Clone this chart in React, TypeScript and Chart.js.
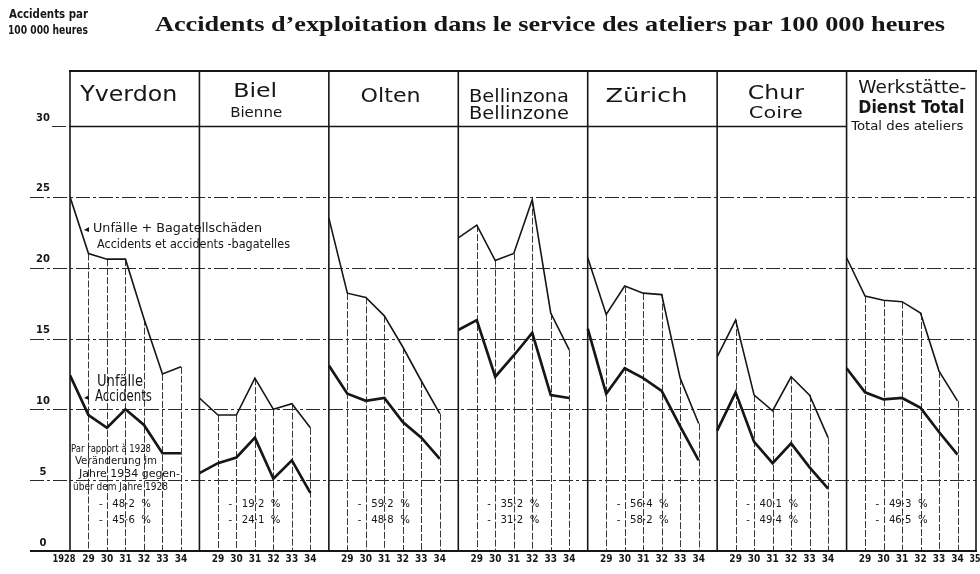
import React, { useEffect, useRef } from "react";
import { Chart, registerables } from "chart.js";

Chart.register(...registerables);

// ---------- data ----------
const years = ["1928", "1929", "1930", "1931", "1932", "1933", "1934"];
const endYearLabel = "35";
const stations = ["Yverdon", "Biel", "Olten", "Bellinzona", "Zürich", "Chur", "Werkstätte-Dienst Total"];

// Unfälle + Bagatellschäden (thin line)
const yverdonTotal = [25.0, 21.0, 20.6, 20.6, 16.4, 12.5, 13.0];
const bielTotal = [10.8, 9.6, 9.6, 12.2, 10.0, 10.4, 8.7];
const oltenTotal = [23.5, 18.2, 17.9, 16.6, 14.4, 12.0, 9.7];
const bellinzonaTotal = [22.1, 23.0, 20.5, 21.0, 24.8, 16.8, 14.2];
const zurichTotal = [20.7, 16.7, 18.7, 18.2, 18.1, 12.2, 9.0];
const churTotal = [13.7, 16.3, 11.0, 9.9, 12.3, 11.0, 8.0];
const werkstatteTotal = [20.7, 18.0, 17.7, 17.6, 16.8, 12.7, 10.6];

// Unfälle (thick line)
const yverdonAccidents = [12.4, 9.6, 8.7, 10.0, 8.9, 6.9, 6.9];
const bielAccidents = [5.5, 6.2, 6.6, 8.0, 5.1, 6.4, 4.1];
const oltenAccidents = [13.1, 11.1, 10.6, 10.8, 9.1, 8.0, 6.5];
const bellinzonaAccidents = [15.6, 16.3, 12.3, 13.8, 15.4, 11.0, 10.8];
const zurichAccidents = [15.7, 11.1, 12.9, 12.2, 11.3, 8.8, 6.4];
const churAccidents = [8.5, 11.2, 7.7, 6.2, 7.6, 5.9, 4.4];
const werkstatteAccidents = [12.9, 11.2, 10.7, 10.8, 10.1, 8.4, 6.8];

// change 1934 vs 1928 (%)
const changeTotal = ["48·2", "19·2", "59·2", "35·2", "56·4", "40·1", "49·3"];
const changeAccidents = ["45·6", "24·1", "48·8", "31·2", "58·2", "49·4", "46·5"];

const yTicks = [0, 5, 10, 15, 20, 25, 30];

const totals = [yverdonTotal, bielTotal, oltenTotal, bellinzonaTotal, zurichTotal, churTotal, werkstatteTotal];
const accidents = [yverdonAccidents, bielAccidents, oltenAccidents, bellinzonaAccidents, zurichAccidents, churAccidents, werkstatteAccidents];

const INK = "#161616";
const SANS = "'DejaVu Sans', 'Noto Sans', sans-serif";
const COND = "'DejaVu Sans Condensed', 'Liberation Sans Narrow', 'DejaVu Sans', sans-serif";

function fitText(ctx: CanvasRenderingContext2D, text: string, x: number, y: number, width: number, font: string, align: CanvasTextAlign = "center") {
  ctx.save();
  ctx.font = font;
  const w = ctx.measureText(text).width || 1;
  ctx.translate(x, y);
  ctx.scale(width / w, 1);
  ctx.textAlign = align;
  ctx.textBaseline = "middle";
  ctx.fillStyle = INK;
  ctx.fillText(text, 0, 0);
  ctx.restore();
}

function arrowLeft(ctx: CanvasRenderingContext2D, x: number, y: number) {
  ctx.save();
  ctx.fillStyle = INK;
  ctx.beginPath();
  ctx.moveTo(x - 3, y + 1);
  ctx.lineTo(x + 2, y - 2);
  ctx.lineTo(x + 2, y + 3);
  ctx.closePath();
  ctx.fill();
  ctx.restore();
}

const framePlugin = {
  id: "frame",
  beforeDatasetsDraw(chart: any) {
    const ctx: CanvasRenderingContext2D = chart.ctx;
    const xs = chart.scales.x;
    const ys = chart.scales.y;
    const left = xs.getPixelForValue(0);
    const right = xs.getPixelForValue(49);
    const lastPanelLeft = xs.getPixelForValue(42);
    const base = ys.getPixelForValue(0);
    const top30 = ys.getPixelForValue(30);
    const headerTop = top30 - 55;
    ctx.save();
    // horizontal grid lines
    ctx.strokeStyle = "#2a2a2a";
    ctx.lineWidth = 1;
    ctx.setLineDash([14, 3, 3, 3]);
    for (const v of yTicks) {
      if (v === 0 || v === 30) continue;
      const py = Math.round(ys.getPixelForValue(v)) + 0.5;
      ctx.beginPath();
      ctx.moveTo(30, py);
      ctx.lineTo(right, py);
      ctx.stroke();
    }
    // left extension of 30 line
    const p30 = Math.round(top30) + 0.5;
    ctx.beginPath();
    ctx.moveTo(52, p30);
    ctx.lineTo(left, p30);
    ctx.stroke();
    ctx.setLineDash([]);
    // header bottom (30 line) across panels except the last
    ctx.strokeStyle = INK;
    ctx.lineWidth = 1.5;
    ctx.beginPath();
    ctx.moveTo(left, p30);
    ctx.lineTo(lastPanelLeft, p30);
    ctx.stroke();

    // drop lines from the upper curve to the base
    ctx.strokeStyle = "#3a3a3a";
    ctx.lineWidth = 1;
    ctx.setLineDash([7, 2]);
    chart.data.datasets.forEach((ds: any, di: number) => {
      if (ds.kind !== "total") return;
      const meta = chart.getDatasetMeta(di);
      meta.data.forEach((pt: any, j: number) => {
        if (j === 0) return;
        const px = Math.round(pt.x) + 0.5;
        ctx.beginPath();
        ctx.moveTo(px, pt.y);
        ctx.lineTo(px, base);
        ctx.stroke();
      });
    });
    ctx.setLineDash([]);

    // panel dividers
    ctx.strokeStyle = INK;
    ctx.lineWidth = 1.6;
    for (let i = 0; i <= stations.length; i++) {
      const px = xs.getPixelForValue(7 * i);
      ctx.beginPath();
      ctx.moveTo(px, headerTop);
      ctx.lineTo(px, base);
      ctx.stroke();
    }
    // header top
    ctx.lineWidth = 2;
    ctx.beginPath();
    ctx.moveTo(left - 1, headerTop);
    ctx.lineTo(right + 1, headerTop);
    ctx.stroke();
    // base line
    ctx.lineWidth = 2;
    ctx.beginPath();
    ctx.moveTo(30, base);
    ctx.lineTo(right + 1, base);
    ctx.stroke();
    ctx.restore();
  },
  afterDraw(chart: any) {
    const ctx: CanvasRenderingContext2D = chart.ctx;
    const xs = chart.scales.x;
    const ys = chart.scales.y;
    const base = ys.getPixelForValue(0);
    // y tick labels
    for (const v of yTicks) {
      const py = ys.getPixelForValue(v);
      ctx.save();
      ctx.font = `bold 10px ${SANS}`;
      ctx.fillStyle = INK;
      ctx.textAlign = "center";
      ctx.textBaseline = "middle";
      ctx.fillText(String(v), 43, py - 8);
      ctx.restore();
    }
    // first and last x labels (kept out of the axis so they don't shrink the plot)
    fitText(ctx, years[0], xs.getPixelForValue(0) - 6, base + 8, 23, `bold 10px ${COND}`);
    fitText(ctx, endYearLabel, xs.getPixelForValue(49) - 1, base + 8, 11, `bold 10px ${COND}`);

    // titles
    fitText(ctx, "Accidents par", 9, 15, 79, `bold 13px ${COND}`, "left");
    fitText(ctx, "100 000 heures", 8, 31, 80, `bold 13px ${COND}`, "left");
    fitText(ctx, "Accidents d’exploitation dans le service des ateliers par 100 000 heures", 550, 25, 790, "bold 22px 'Liberation Serif', serif");

    // panel headers
    const pc = (i: number) => (xs.getPixelForValue(7 * i) + xs.getPixelForValue(7 * i + 7)) / 2;
    fitText(ctx, "Yverdon", pc(0) - 6, 95, 97, `22px ${SANS}`);
    fitText(ctx, "Biel", pc(1) - 9, 92, 44, `20px ${SANS}`);
    fitText(ctx, "Bienne", pc(1) - 8, 113, 52, `14px ${SANS}`);
    fitText(ctx, "Olten", pc(2) - 3, 97, 60, `20px ${SANS}`);
    fitText(ctx, "Bellinzona", pc(3) - 4, 97, 100, `18px ${SANS}`);
    fitText(ctx, "Bellinzone", pc(3) - 4, 114, 100, `18px ${SANS}`);
    fitText(ctx, "Zürich", pc(4) - 6, 97, 82, `20px ${SANS}`);
    fitText(ctx, "Chur", pc(5) - 6, 94, 56, `20px ${SANS}`);
    fitText(ctx, "Coire", pc(5) - 6, 114, 54, `16px ${SANS}`);
    fitText(ctx, "Werkstätte-", pc(6) + 1, 89, 108, `17px ${SANS}`);
    fitText(ctx, "Dienst Total", pc(6), 109, 106, `bold 17px ${SANS}`);
    fitText(ctx, "Total des ateliers", pc(6) - 4, 127, 112, `12px ${COND}`);

    // annotations in Yverdon panel
    arrowLeft(ctx, 87, 229);
    fitText(ctx, "Unfälle + Bagatellschäden", 93, 229, 169, `13px ${COND}`, "left");
    fitText(ctx, "Accidents et accidents -bagatelles", 97, 245, 193, `13px ${COND}`, "left");
    fitText(ctx, "Unfälle", 97, 382, 46, `16px ${SANS}`, "left");
    arrowLeft(ctx, 87, 397);
    fitText(ctx, "Accidents", 95, 397, 57, `16px ${SANS}`, "left");
    fitText(ctx, "Par rapport à 1928", 71, 449, 80, `10px ${COND}`, "left");
    fitText(ctx, "Veränderung im", 75, 461, 82, `10px ${COND}`, "left");
    fitText(ctx, "Jahre 1934 gegen-", 79, 474, 101, `10px ${COND}`, "left");
    fitText(ctx, "über dem Jahre 1928", 73, 487, 95, `10px ${COND}`, "left");

    // percentage changes
    for (let i = 0; i < stations.length; i++) {
      const cx = xs.getPixelForValue(7 * i) + 55;
      fitText(ctx, `-   ${changeTotal[i]}  %`, cx, 504, 52, `11px ${SANS}`);
      fitText(ctx, `-   ${changeAccidents[i]}  %`, cx, 520, 52, `11px ${SANS}`);
    }
  },
};

export default function App() {
  const ref = useRef<HTMLCanvasElement | null>(null);
  useEffect(() => {
    if (!ref.current) return;
    const datasets: any[] = [];
    stations.forEach((name, i) => {
      datasets.push({
        label: `${name} – Unfälle + Bagatellschäden`,
        kind: "total",
        data: years.map((_, j) => ({ x: 7 * i + j, y: totals[i][j] })),
        borderColor: INK,
        borderWidth: 1.6,
        pointRadius: 0,
        tension: 0,
        fill: false,
      });
      datasets.push({
        label: `${name} – Unfälle`,
        kind: "acc",
        data: years.map((_, j) => ({ x: 7 * i + j, y: accidents[i][j] })),
        borderColor: INK,
        borderWidth: 2.7,
        pointRadius: 0,
        tension: 0,
        fill: false,
      });
    });
    const chart = new Chart(ref.current, {
      type: "line",
      data: { datasets },
      options: {
        animation: false,
        responsive: false,
        devicePixelRatio: 1,
        layout: { padding: { left: 70, right: 4, top: 126, bottom: 0 } },
        plugins: { legend: { display: false }, tooltip: { enabled: false }, title: { display: false } },
        scales: {
          x: {
            type: "linear",
            min: 0,
            max: 49,
            grid: { display: false, drawTicks: false, tickLength: 0 },
            border: { display: false },
            afterFit: (scale: any) => {
              scale.height = 23;
            },
            ticks: {
              stepSize: 1,
              autoSkip: false,
              maxRotation: 0,
              padding: 2,
              color: INK,
              font: { family: COND, size: 10, weight: "bold" },
              callback: (v: any) => {
                const n = Math.round(Number(v));
                const j = n % 7;
                if (j === 0) return "";
                return years[j].slice(2);
              },
            },
          },
          y: {
            type: "linear",
            min: 0,
            max: 30,
            display: false,
          },
        },
      } as any,
      plugins: [framePlugin],
    });
    return () => chart.destroy();
  }, []);
  return (
    <div style={{ position: "fixed", left: 0, top: 0, width: 980, height: 574, background: "#fff" }}>
      <canvas ref={ref} width={980} height={574} style={{ display: "block" }} />
    </div>
  );
}
